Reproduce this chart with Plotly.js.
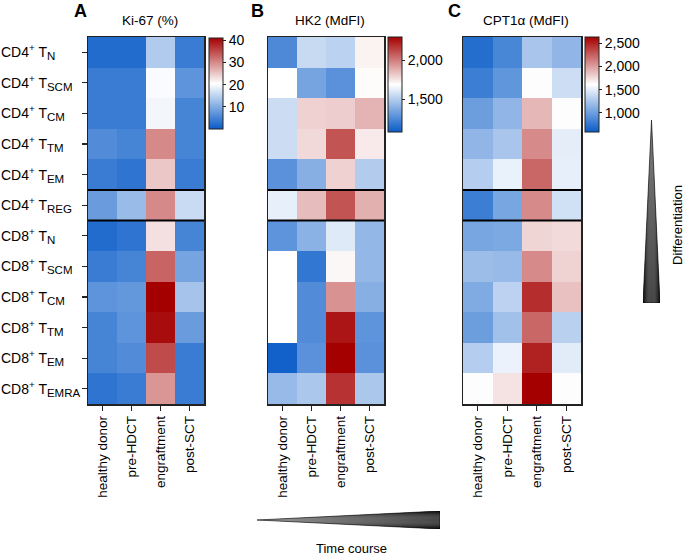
<!DOCTYPE html>
<html>
<head>
<meta charset="utf-8">
<script src="https://cdn.plot.ly/plotly-3.0.1.min.js"></script>
<style>html,body{margin:0;padding:0;background:#fff;}#chart{width:685px;height:557px;}</style>
</head>
<body>
<div id="chart"></div>
<script>
// ---- data ----
const timepoints = ["healthy donor", "pre-HDCT", "engraftment", "post-SCT"];
const subsetParents = ["CD4", "CD4", "CD4", "CD4", "CD4", "CD4", "CD8", "CD8", "CD8", "CD8", "CD8", "CD8"];
const subsetNames = ["N", "SCM", "CM", "TM", "EM", "REG", "N", "SCM", "CM", "TM", "EM", "EMRA"];
const ki67 = [
  [2, 2, 14, 4],
  [4, 4, 20, 7],
  [4, 4, 19.5, 5],
  [6, 5, 30, 5],
  [4, 3, 25, 4],
  [8, 12, 30, 16],
  [2, 3, 23, 5],
  [4, 5, 33, 9],
  [7, 7.5, 41, 13],
  [5, 7, 40, 8],
  [5, 6, 35, 4],
  [3, 4, 29, 4]
];
const hk2 = [
  [1250, 1550, 1520, 1720],
  [null, 1350, 1280, 1700],
  [1560, 1800, 1810, 1870],
  [1560, 1780, 2100, 1740],
  [1280, 1390, 1800, 1500],
  [1630, 1850, 2100, 1880],
  [1290, 1400, 1610, 1420],
  [null, 1180, 1710, 1420],
  [null, 1260, 1950, 1390],
  [null, 1260, 2250, 1290],
  [1100, 1280, 2300, 1280],
  [1430, 1480, 2180, 1480]
];
const cpt1a = [
  [700, 850, 1250, 1150],
  [800, 950, 1620, 1400],
  [1000, 1150, 1900, 1600],
  [1150, 1250, 2080, 1500],
  [1300, 1520, 2220, 1510],
  [800, 1050, 2080, 1420],
  [1050, 1070, 1780, 1760],
  [1200, 1180, 2080, 1790],
  [1080, 1330, 2450, 1860],
  [1000, 1220, 2220, 1320],
  [1300, 1530, 2500, 1490],
  [1600, 1720, 2630, 1620]
];
const panelTitles = ["Ki-67 (%)", "HK2 (MdFI)", "CPT1\u03b1 (MdFI)"];
const panelLetters = ["A", "B", "C"];
const cbTicks = [[10, 20, 30, 40], [1500, 2000], [1000, 1500, 2000, 2500]];

const subsets = subsetParents.map((p, i) =>
  p + "<sup>+</sup> T<sub><span style=\"font-size:11.5px\">" + subsetNames[i] + "</span></sub>");

// ---- layout helpers (pixels -> paper) ----
const W = 685, H = 557;
const px = v => v / W;
const py = v => 1 - v / H;
const FONT = "Liberation Sans, Arial, sans-serif";
const scale = [[0, "rgb(10,92,200)"], [0.5, "rgb(255,255,255)"], [1, "rgb(165,0,0)"]];

const panels = [
  {z: ki67, x0: 88, x1: 204, zmin: 0, zmax: 41, cbx: 209, cbTop: 38, cbLen: 91, fmt: "d"},
  {z: hk2, x0: 268, x1: 384, zmin: 1080, zmax: 2300, cbx: 388, cbTop: 37, cbLen: 95, fmt: ",d"},
  {z: cpt1a, x0: 463, x1: 581, zmin: 590, zmax: 2630, cbx: 585, cbTop: 37, cbLen: 95, fmt: ",d"}
];
const yTop = 37, yBot = 404;

const traces = [];
const layout = {
  width: W, height: H, autosize: false,
  margin: {l: 0, r: 0, t: 0, b: 0},
  paper_bgcolor: "#fff", plot_bgcolor: "#fff",
  font: {family: FONT, size: 13, color: "#000"},
  showlegend: false,
  shapes: [], annotations: [], images: []
};

panels.forEach((p, i) => {
  const xa = i === 0 ? "x" : "x" + (i + 1);
  const ya = i === 0 ? "y" : "y" + (i + 1);
  traces.push({
    type: "heatmap",
    x: timepoints, y: subsets, z: p.z,
    xaxis: xa, yaxis: ya,
    zmin: p.zmin, zmax: p.zmax,
    colorscale: scale,
    hoverongaps: false,
    colorbar: {
      x: px(p.cbx), xanchor: "left", xref: "paper",
      y: py(p.cbTop), yanchor: "top", yref: "paper",
      len: p.cbLen, lenmode: "pixels",
      thickness: 14, thicknessmode: "pixels",
      xpad: 0, ypad: 0,
      outlinewidth: 1, outlinecolor: "#222",
      ticks: "outside", ticklen: 3, tickcolor: "#222",
      tickvals: cbTicks[i], tickformat: p.fmt,
      tickfont: {size: 14, family: FONT, color: "#000"}
    }
  });
  const xKey = i === 0 ? "xaxis" : "xaxis" + (i + 1);
  const yKey = i === 0 ? "yaxis" : "yaxis" + (i + 1);
  layout[xKey] = {
    domain: [px(p.x0), px(p.x1)], anchor: ya, type: "category",
    categoryorder: "array", categoryarray: timepoints,
    showline: true, mirror: true, linecolor: "#222", linewidth: 1.5,
    ticks: "outside", ticklen: 5, tickcolor: "#222", tickwidth: 1.2,
    tickangle: -90, tickfont: {size: 13.5, family: FONT, color: "#000"},
    showgrid: false, zeroline: false, fixedrange: true
  };
  layout[yKey] = {
    domain: [py(yBot), py(yTop)], anchor: xa, type: "category",
    categoryorder: "array", categoryarray: subsets, autorange: "reversed",
    showline: true, mirror: true, linecolor: "#222", linewidth: 1.5,
    ticks: i === 0 ? "outside" : "", ticklen: 5, tickcolor: "#222", tickwidth: 1.2,
    showticklabels: false,
    showgrid: false, zeroline: false, fixedrange: true
  };
  // Treg separator lines
  [4.5, 5.5].forEach(yv => {
    layout.shapes.push({
      type: "line", xref: xa + " domain", yref: ya,
      x0: 0, x1: 1, y0: yv, y1: yv,
      line: {color: "#000", width: 2}
    });
  });
  // panel titles
  layout.annotations.push({
    xref: "paper", yref: "paper", x: px((p.x0 + p.x1) / 2 + 4), y: py(20),
    text: panelTitles[i], showarrow: false, xanchor: "center", yanchor: "middle",
    font: {size: 13.5, family: FONT, color: "#000"}
  });
});

// left-aligned row labels (subset names)
subsets.forEach(s => {
  layout.annotations.push({
    xref: "paper", yref: "y", x: 0, y: s, text: s,
    showarrow: false, xanchor: "left", yanchor: "middle", borderpad: 0,
    font: {size: 14, family: FONT, color: "#000"}
  });
});

// panel letters
[[80, "A"], [257, "B"], [454, "C"]].forEach(([xv, t]) => {
  layout.annotations.push({
    xref: "paper", yref: "paper", x: px(xv), y: 1, text: "<b>" + t + "</b>",
    showarrow: false, xanchor: "center", yanchor: "top", borderpad: 0,
    font: {size: 18, family: FONT, color: "#000"}
  });
});

// axis cue labels
layout.annotations.push({
  xref: "paper", yref: "paper", x: px(677), y: py(225), text: "Differentiation",
  textangle: -90, showarrow: false, xanchor: "center", yanchor: "middle",
  font: {size: 13, family: FONT, color: "#000"}
});
layout.annotations.push({
  xref: "paper", yref: "paper", x: px(351), y: py(548), text: "Time course",
  showarrow: false, xanchor: "center", yanchor: "middle",
  font: {size: 13, family: FONT, color: "#000"}
});

// gradient wedges (decorative)
function svgURI(svg) { return "data:image/svg+xml;base64," + btoa(svg); }
const vSvg = '<svg xmlns="http://www.w3.org/2000/svg" width="17" height="183" viewBox="0 0 17 183">' +
  '<defs><linearGradient id="g" x1="0" y1="0" x2="0" y2="1">' +
  '<stop offset="0" stop-color="#555"/><stop offset="1" stop-color="#050505"/></linearGradient>' +
  '<linearGradient id="h" x1="0" y1="0" x2="1" y2="0">' +
  '<stop offset="0" stop-color="#000" stop-opacity="0.7"/><stop offset="0.5" stop-color="#fff" stop-opacity="0.25"/><stop offset="1" stop-color="#000" stop-opacity="0.7"/></linearGradient></defs>' +
  '<polygon points="8.5,0 17,183 0,183" fill="url(#g)"/>' +
  '<polygon points="8.5,0 17,183 0,183" fill="url(#h)" stroke="#000" stroke-width="0.6"/></svg>';
const hSvg = '<svg xmlns="http://www.w3.org/2000/svg" width="183" height="18" viewBox="0 0 183 18">' +
  '<defs><linearGradient id="g" x1="0" y1="0" x2="1" y2="0">' +
  '<stop offset="0" stop-color="#777"/><stop offset="1" stop-color="#050505"/></linearGradient>' +
  '<linearGradient id="h" x1="0" y1="0" x2="0" y2="1">' +
  '<stop offset="0" stop-color="#000" stop-opacity="0.7"/><stop offset="0.5" stop-color="#fff" stop-opacity="0.25"/><stop offset="1" stop-color="#000" stop-opacity="0.7"/></linearGradient></defs>' +
  '<polygon points="0,9 183,0 183,18" fill="url(#g)"/>' +
  '<polygon points="0,9 183,0 183,18" fill="url(#h)" stroke="#000" stroke-width="0.6"/></svg>';
layout.images.push({
  source: svgURI(vSvg), xref: "paper", yref: "paper",
  x: px(643), y: py(120), sizex: 17 / W, sizey: 183 / H,
  xanchor: "left", yanchor: "top", sizing: "stretch", layer: "above"
});
layout.images.push({
  source: svgURI(hSvg), xref: "paper", yref: "paper",
  x: px(257), y: py(511), sizex: 183 / W, sizey: 18 / H,
  xanchor: "left", yanchor: "top", sizing: "stretch", layer: "above"
});

Plotly.newPlot("chart", traces, layout, {displayModeBar: false, staticPlot: true});
</script>
</body>
</html>
